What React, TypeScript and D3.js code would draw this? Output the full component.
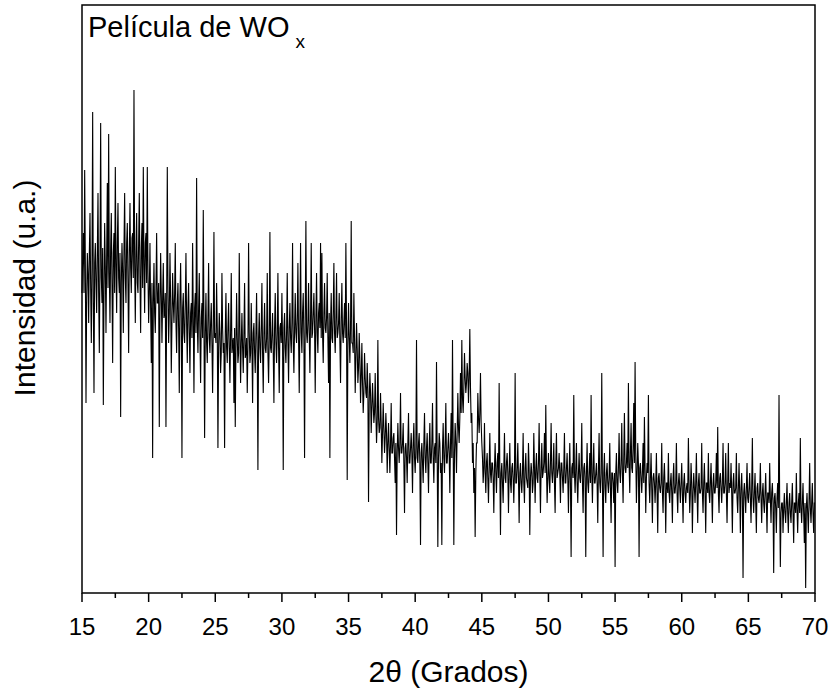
import React, { useEffect } from 'react';
import * as d3 from 'd3';

// 2θ grid: 15.00 → 70.00 in steps of 0.05°
const thetaStart = 15;
const thetaStep = 0.05;
const xTicks = [15, 20, 25, 30, 35, 40, 45, 50, 55, 60, 65, 70];
const xMinorTicks = [17.5, 22.5, 27.5, 32.5, 37.5, 42.5, 47.5, 52.5, 57.5, 62.5, 67.5];

// Intensity (arbitrary units), 20 values per degree
const int15to25 = [
  300,335,360,300,423,330,190,295,340,320,270,340,380,305,250,325,481,290,200,330,
  350,310,280,340,400,300,240,330,470,315,290,345,188,300,370,325,260,335,410,305,
  459,320,270,345,380,310,230,340,360,300,426,330,280,350,390,315,300,340,176,310,
  350,320,260,345,400,315,290,350,370,310,240,340,390,325,300,355,360,315,503,330,
  270,340,380,310,300,350,400,315,260,345,370,305,426,330,280,350,360,310,426,320,
  270,300,350,285,230,310,135,290,330,280,260,305,360,290,290,310,166,285,340,300,
  250,295,330,275,280,300,166,285,426,305,250,280,340,295,220,270,320,290,270,300,
  350,270,240,290,310,265,200,295,330,275,135,285,300,260,250,290,340,270,230,285,
  310,260,220,280,290,255,350,275,200,285,300,260,415,270,240,285,320,255,210,275,
  290,255,383,270,155,260,300,250,230,275,330,255,240,270,290,250,200,265,361,255,
];
const int25to35 = [
  260,250,310,265,145,245,280,260,220,240,320,265,240,250,145,260,300,245,230,265,
  290,245,210,260,320,240,250,255,190,265,166,245,300,255,230,240,340,260,210,250,
  280,245,220,260,310,235,240,255,200,245,350,260,230,240,290,250,190,260,270,240,
  220,260,300,240,123,255,280,245,230,265,310,240,200,260,290,245,240,255,320,240,
  210,255,361,245,240,260,280,240,190,265,300,250,230,260,320,245,200,265,270,250,
  300,250,123,265,280,245,230,260,320,250,210,265,290,255,240,270,350,250,220,265,
  300,260,250,275,330,255,200,270,350,260,240,280,300,255,135,275,372,260,250,270,
  310,260,220,275,350,255,260,280,300,265,200,275,320,260,240,280,290,265,350,255,
  340,260,230,280,310,265,260,275,320,255,210,280,135,270,300,255,250,280,330,260,
  240,275,320,255,260,270,300,250,210,275,310,260,250,270,290,255,350,265,113,250,
];
const int35to45 = [
  290,255,230,265,372,250,250,240,300,255,200,235,270,245,210,225,260,235,190,215,
  250,210,180,200,240,215,200,195,230,205,91,190,220,200,160,185,210,190,170,180,
  220,180,150,170,253,175,160,165,200,170,130,160,190,165,140,155,180,160,120,150,
  170,145,120,150,190,140,140,155,160,135,110,150,58,140,170,145,130,150,200,140,
  140,150,170,130,80,145,150,135,110,150,180,130,130,145,160,140,100,150,170,135,
  120,145,253,135,130,150,160,130,48,140,150,130,110,150,180,135,120,145,160,130,
  100,145,170,130,130,150,190,135,110,145,150,130,231,140,46,135,160,150,120,130,
  48,145,170,135,120,150,190,130,130,145,160,140,100,150,180,135,253,150,48,140,
  170,150,120,160,200,165,150,175,220,180,253,195,180,205,240,215,200,210,230,220,
  190,215,264,205,170,180,130,150,100,125,56,120,150,150,200,175,160,180,220,170,
];
const int45to55 = [
  150,135,110,125,170,120,100,130,140,115,90,125,160,120,110,130,130,115,80,125,
  150,120,100,130,140,115,210,125,58,120,130,110,90,125,160,115,110,130,140,120,
  80,120,150,110,100,125,130,115,90,120,220,110,110,125,150,115,70,120,130,110,
  100,120,160,110,90,125,140,115,110,105,150,125,58,115,130,120,100,110,160,125,
  90,125,140,115,110,130,170,120,80,125,150,115,120,130,160,120,188,125,90,115,
  140,115,100,130,170,120,110,125,150,110,80,130,160,115,120,125,140,120,90,130,
  130,115,100,125,160,110,110,125,140,115,80,120,150,110,36,125,130,115,198,120,
  100,125,150,110,90,120,140,115,110,125,170,110,80,125,130,115,36,120,150,110,
  100,120,140,110,198,120,90,125,150,110,110,120,130,110,70,125,160,110,100,120,
  220,110,36,120,140,105,90,120,130,110,100,115,150,105,70,120,120,110,90,120,
];
const int55to65 = [
  26,120,140,110,100,125,160,120,110,130,170,120,90,135,180,125,120,130,150,125,
  210,130,100,140,170,125,120,145,190,130,231,140,90,120,150,130,36,125,130,115,
  100,120,150,110,176,125,80,115,130,120,198,110,90,115,140,105,70,115,120,110,
  90,110,140,100,60,115,120,105,100,110,150,100,80,115,130,105,60,110,110,100,
  140,100,90,110,120,100,70,115,130,100,100,110,150,100,80,110,120,105,90,110,
  130,100,70,110,120,100,90,105,110,100,155,110,80,100,130,110,60,100,120,105,
  90,110,140,100,70,110,120,100,100,105,150,100,80,110,130,100,60,110,110,100,
  140,100,90,110,130,100,70,110,120,100,100,110,140,105,166,100,80,115,120,105,
  90,110,150,100,100,110,140,100,70,110,150,100,110,105,130,100,60,110,120,100,
  100,105,140,95,80,105,130,100,60,105,120,95,15,100,110,95,80,105,130,95,
];
const int65to70 = [
  90,105,120,95,70,105,155,95,80,100,120,90,60,105,110,95,90,100,130,95,
  70,100,110,90,80,100,120,90,60,100,100,90,130,95,70,100,110,90,20,95,
  100,85,60,95,110,85,198,90,26,80,90,90,60,85,100,80,70,90,110,80,
  60,90,100,80,70,90,110,80,50,90,90,80,120,85,60,90,100,80,155,85,
  70,90,110,80,50,90,5,85,100,80,60,90,130,85,70,90,110,80,60,90,
  90,
];

const intensity = [
  ...int15to25, ...int25to35, ...int35to45,
  ...int45to55, ...int55to65, ...int65to70,
];
const data = intensity.map((v, i) => ({ x: thetaStart + i * thetaStep, y: v }));

const W = 831;
const H = 692;
const margin = { left: 82, right: 16, top: 5, bottom: 99 };
const FONT = 'Arial, "Liberation Sans", sans-serif';

export default function App() {
  useEffect(() => {
    document.body.style.margin = '0';
  }, []);

  const innerW = W - margin.left - margin.right;
  const innerH = H - margin.top - margin.bottom;
  const x = d3.scaleLinear().domain([15, 70]).range([0, innerW]);
  const y = d3.scaleLinear().domain([0, 588]).range([innerH, 0]);
  const line = d3.line<{ x: number; y: number }>().x(d => x(d.x)).y(d => y(d.y));

  return (
    <svg width={W} height={H} style={{ display: 'block' }} fontFamily={FONT}>
      <g transform={`translate(${margin.left},${margin.top})`}>
        <path d={line(data) || ''} fill="none" stroke="#000" strokeWidth={1.1} />
        <rect x={0} y={0} width={innerW} height={innerH} fill="none" stroke="#000" strokeWidth={1.5} />
        {xTicks.map(t => (
          <g key={t} transform={`translate(${x(t)},${innerH})`}>
            <line y1={0} y2={9} stroke="#000" strokeWidth={1.5} />
            <text y={42} textAnchor="middle" fontSize={24} fill="#000">{t}</text>
          </g>
        ))}
        {xMinorTicks.map(t => (
          <line key={t} x1={x(t)} x2={x(t)} y1={innerH} y2={innerH + 5} stroke="#000" strokeWidth={1.5} />
        ))}
        <text x={innerW / 2} y={innerH + 89} textAnchor="middle" fontSize={30} fill="#000">
          2θ (Grados)
        </text>
        <text x={6} y={32} fontSize={29} fill="#000">
          Película de WO<tspan fontSize={19} dx={6} dy={11}>x</tspan>
        </text>
      </g>
      <text
        transform="translate(35,288) rotate(-90)"
        textAnchor="middle"
        fontSize={30}
        fill="#000"
      >
        Intensidad (u.a.)
      </text>
    </svg>
  );
}
